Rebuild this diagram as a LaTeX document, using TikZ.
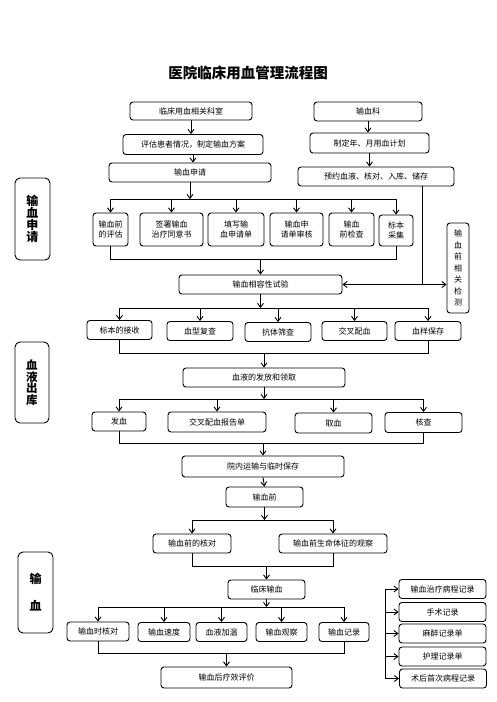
\documentclass[tikz,border=0pt]{standalone}
\usepackage{fontspec}
\newfontfamily\cjk{Noto Sans CJK SC}
\usetikzlibrary{arrows.meta}
\tikzset{
	flowbox/.style = {draw=black, rounded corners=3pt, line width=0.9pt, align=center, inner sep=0pt, font=\cjk\fontsize{8}{10.5}\selectfont},
	vbox/.style = {flowbox, font=\cjk\fontsize{8}{11.5}\selectfont},
	sidebox/.style = {draw=black, rounded corners=5pt, line width=0.9pt, align=center, inner sep=0pt},
	sz/.style n args = {2}{minimum width=#1pt, minimum height=#2pt},
	link/.style = {line width=0.9pt},
	arr/.style = {link, -{Straight Barb[length=4pt,width=6pt]}},
	arrboth/.style = {link, {Straight Barb[length=4pt,width=6pt]}-{Straight Barb[length=4pt,width=6pt]}}
}

\begin{document}
\begin{tikzpicture}[x=1pt, y=-1pt]
		\useasboundingbox (0,0) rectangle (496,702);
		\node [font=\cjk\bfseries\fontsize{14.5}{16}\selectfont] (title) at (248,73) {医院临床用血管理流程图};
		% side labels
		\node [sidebox, sz={35}{82}, font=\cjk\bfseries\fontsize{12}{12}\selectfont] (lab1) at (32.5,219) {输\\血\\申\\请};
		\node [sidebox, sz={34}{81}, font=\cjk\bfseries\fontsize{11.5}{11.5}\selectfont] (lab2) at (32,382.5) {血\\液\\出\\库};
		\node [sidebox, sz={35}{81}, font=\cjk\bfseries\fontsize{12}{27}\selectfont] (lab3) at (35.5,592.5) {输\\血};
		% application
		\node [flowbox, sz={122}{18}] (dept) at (191,111) {临床用血相关科室};
		\node [flowbox, sz={108}{19}] (bank) at (368,111.5) {输血科};
		\node [flowbox, sz={140}{20}] (assess) at (193,144.5) {评估患者情况，制定输血方案};
		\node [flowbox, sz={119}{20}] (plan) at (369.5,143) {制定年、月用血计划};
		\node [flowbox, sz={162}{19}] (apply) at (190,172.5) {输血申请};
		\node [flowbox, sz={156}{19}] (store) at (376,176.5) {预约血液、核对、入库、储存};
		\node [flowbox, sz={35}{33}] (e1) at (110.5,229.5) {输血前\\的评估};
		\node [flowbox, sz={63}{33}] (e2) at (171.5,229.5) {签署输血\\治疗同意书};
		\node [flowbox, sz={56}{33}] (e3) at (236,229.5) {填写输\\血申请单};
		\node [flowbox, sz={53}{33}] (e4) at (296.5,229.5) {输血申\\请单审核};
		\node [flowbox, sz={45}{33}] (e5) at (351.5,229.5) {输血\\前检查};
		\node [flowbox, sz={34}{31}] (e6) at (396,230.5) {标本\\采集};
		\node [vbox, sz={22}{90}] (rtest) at (458,268) {输\\血\\前\\相\\关\\检\\测};
		\node [flowbox, sz={163}{19}] (test) at (260.5,284.5) {输血相容性试验};
		% issue
		\node [flowbox, sz={65}{19}] (s1) at (119.5,330) {标本的接收};
		\node [flowbox, sz={66}{19}] (s2) at (200,331) {血型复查};
		\node [flowbox, sz={66}{19}] (s3) at (278,332) {抗体筛查};
		\node [flowbox, sz={65}{19}] (s4) at (354.5,331) {交叉配血};
		\node [flowbox, sz={66}{19}] (s5) at (428,331) {血样保存};
		\node [flowbox, sz={162}{19}] (issue) at (264,377.5) {血液的发放和领取};
		\node [flowbox, sz={54}{19}] (t1) at (119,421.5) {发血};
		\node [flowbox, sz={98}{20}] (t2) at (217,422) {交叉配血报告单};
		\node [flowbox, sz={77}{20}] (t3) at (333.5,423) {取血};
		\node [flowbox, sz={77}{20}] (t4) at (423.5,422.5) {核查};
		\node [flowbox, sz={162}{21}] (trans) at (263,466.5) {院内运输与临时保存};
		% transfusion
		\node [flowbox, sz={77}{20}] (pre) at (264.5,497) {输血前};
		\node [flowbox, sz={78}{19}] (c1) at (192,543.5) {输血前的核对};
		\node [flowbox, sz={108}{19}] (c2) at (333,543.5) {输血前生命体征的观察};
		\node [flowbox, sz={77}{19}] (clin) at (266.5,589.5) {临床输血};
		\node [flowbox, sz={62}{19}] (d1) at (98,631.5) {输血时核对};
		\node [flowbox, sz={52}{19}] (d2) at (164,632) {输血速度};
		\node [flowbox, sz={51}{19}] (d3) at (221.5,632) {血液加温};
		\node [flowbox, sz={51}{19}] (d4) at (281.5,632) {输血观察};
		\node [flowbox, sz={50}{19}] (d5) at (344,632) {输血记录};
		\node [flowbox, sz={131}{21}] (eval) at (226.5,677.5) {输血后疗效评价};
		% records
		\node [flowbox, sz={87}{19}] (r1) at (442.5,589) {输血治疗病程记录};
		\node [flowbox, sz={87}{19}] (r2) at (442.5,612) {手术记录};
		\node [flowbox, sz={87}{19}] (r3) at (442.5,633.5) {麻醉记录单};
		\node [flowbox, sz={87}{19}] (r4) at (442.5,656.5) {护理记录单};
		\node [flowbox, sz={87}{19}] (r5) at (443,678.5) {术后首次病程记录};
		% levels of the branch lines
		\coordinate (b1) at (0,199);
		\coordinate (m1) at (0,259);
		\coordinate (b2) at (0,308);
		\coordinate (m2) at (0,353);
		\coordinate (b3) at (0,399);
		\coordinate (m3) at (0,443);
		\coordinate (b4) at (0,520);
		\coordinate (m4) at (0,566);
		\coordinate (b5) at (0,607);
		\coordinate (m5) at (0,653);
		\coordinate (tap) at (422,0);
		\coordinate (spine) at (385,0);
		% connectors
		\draw [arr] (dept.south) -- (dept.south |- assess.north);
		\draw [arr] (assess.south) -- (assess.south |- apply.north);
		\draw [arr] (bank.south) -- (bank.south |- plan.north);
		\draw [arr] (plan.south) -- (plan.south |- store.north);
		\draw [arr] (apply.south) -- (apply.south |- b1);
		\draw [link] (e1.north |- b1) -- (e6.north |- b1);
		\foreach \n in {e1,e2,e3,e4,e5,e6}
			\draw [arr] (\n.north |- b1) -- (\n.north);
		\draw [link] (e1.south) -- (e1.south |- m1) -- (e6.south |- m1) -- (e6.south);
		\draw [arr] (test.north |- m1) -- (test.north);
		\draw [link] (store.south -| tap) -- (tap |- test.east);
		\draw [arrboth] (test.east) -- (rtest.west |- test.east);
		\draw [arr] (test.south) -- (test.south |- b2);
		\draw [link] (s1.north |- b2) -- (s5.north |- b2);
		\foreach \n in {s1,s2,s3,s4,s5}
			\draw [arr] (\n.north |- b2) -- (\n.north);
		\draw [link] (s1.south) -- (s1.south |- m2) -- (s5.south |- m2) -- (s5.south);
		\draw [arr] (issue.north |- m2) -- (issue.north);
		\draw [arr] (issue.south) -- (issue.south |- b3);
		\draw [link] (t1.north |- b3) -- (t4.north |- b3);
		\foreach \n in {t1,t2,t3,t4}
			\draw [arr] (\n.north |- b3) -- (\n.north);
		\draw [link] (t1.south) -- (t1.south |- m3) -- (t4.south |- m3) -- (t4.south);
		\draw [arr] (trans.north |- m3) -- (trans.north);
		\draw [arr] (trans.south) -- (pre.north);
		\draw [arr] (pre.south) -- (pre.south |- b4);
		\draw [link] (c1.north |- b4) -- (c2.north |- b4);
		\foreach \n in {c1,c2}
			\draw [arr] (\n.north |- b4) -- (\n.north);
		\draw [link] (c1.south) -- (c1.south |- m4) -- (c2.south |- m4) -- (c2.south);
		\draw [arr] (clin.north |- m4) -- (clin.north);
		\draw [arr] (clin.south) -- (clin.south |- b5);
		\draw [link] (d1.north |- b5) -- (d5.north |- b5);
		\foreach \n in {d1,d2,d3,d4,d5}
			\draw [arr] (\n.north |- b5) -- (\n.north);
		\draw [link] (d1.south) -- (d1.south |- m5) -- (d5.south |- m5) -- (d5.south);
		\draw [arr] (eval.north |- m5) -- (eval.north);
		\draw [link] (r1.west -| spine) -- (r5.west -| spine);
		\foreach \n in {r1,r2,r3,r4,r5}
			\draw [arr] (\n.west -| spine) -- (\n.west);
\end{tikzpicture}
\end{document}
